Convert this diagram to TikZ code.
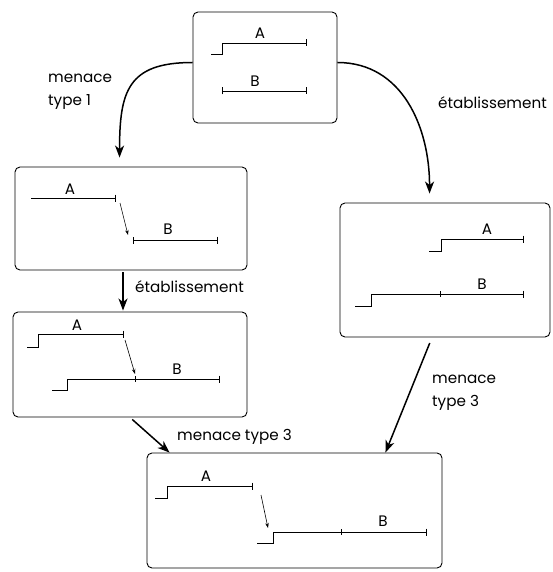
\documentclass[tikz,border=0pt]{standalone}
\usepackage{fontspec}
\setmainfont{Poppins}
\usetikzlibrary{arrows.meta,calc}
\begin{document}
\begin{tikzpicture}[x=1pt,y=-1pt,
 box/.style={draw,rounded corners=5pt,line width=0.9pt,inner sep=0pt},
 arr/.style={line width=1.5pt,-{Stealth[length=12pt,width=9pt,inset=3.5pt]}},
 tlend/.style={line width=0.9pt,-{Bar[width=7pt,line width=0.9pt]}},
 tlboth/.style={line width=0.9pt,{Bar[width=7pt,line width=0.9pt]}-{Bar[width=7pt,line width=0.9pt]}},
 sarr/.style={line width=0.6pt,-{Stealth[length=5pt,width=3.5pt]}},
 lab/.style={font=\fontsize{15.2}{23}\selectfont,inner sep=0pt},
 tick/.style={line width=0.9pt}]
\useasboundingbox (0,0) rectangle (552,572);

% boxes
\node[box,minimum width=144pt,minimum height=111pt] (top) at (265,67.5) {};
\node[box,minimum width=232pt,minimum height=103pt] (lb1) at (131,218.5) {};
\node[box,minimum width=234pt,minimum height=105pt] (lb2) at (130,364.5) {};
\node[box,minimum width=210pt,minimum height=134pt] (rb) at (445,270) {};
\node[box,minimum width=295pt,minimum height=115pt] (bot) at (294.5,510.5) {};

% top box contents
\draw[tlend] (211,54) -- (222,54) -- (222,43) -- (307,43);
\node[lab] (tA) at (260,33) {A};
\draw[tlboth] (222,91) -- (307,91);
\node[lab] (tB) at (255,81) {B};

% left box 1
\draw[tlend] (31,198) -- (116,198);
\node[lab] (aA) at (70,189) {A};
\draw[sarr] (120,203) -- (128,235);
\draw[tlboth] (133,240) -- (218,240);
\node[lab] (aB) at (168,229) {B};

% left box 2
\draw[tlend] (27,347) -- (38,347) -- (38,334) -- (124,334);
\node[lab] (bA) at (77,325) {A};
\draw[sarr] (125,340) -- (135,374);
\draw[tlend] (52,390) -- (67,390) -- (67,379) -- (220,379);
\draw[tick] (135,376) -- (135,382);
\node[lab] (bB) at (177,369) {B};

% right box
\draw[tlend] (429,251) -- (441,251) -- (441,239) -- (524,239);
\node[lab] (cA) at (487,229) {A};
\draw[tlend] (355,306) -- (371,306) -- (371,294) -- (524,294);
\draw[tick] (440,291) -- (440,297);
\node[lab] (cB) at (482,284) {B};

% bottom box
\draw[tlend] (155,498) -- (167,498) -- (167,486) -- (253,486);
\node[lab] (dA) at (206,476) {A};
\draw[sarr] (261,495) -- (268,528);
\draw[tlend] (257,543) -- (273,543) -- (273,532) -- (427,532);
\draw[tick] (341,529) -- (341,535);
\node[lab] (dB) at (383,521) {B};

% connectors
\coordinate (e1) at ($(lb1.north west)+(105,0)$);
\coordinate (e2) at ($(rb.north west)+(90,0)$);
\draw[arr,shorten >=9pt] ([yshift=5pt]top.west) .. controls +(-65,0) and +(0,-75) .. (e1);
\draw[arr,shorten >=9pt] ([yshift=5pt]top.east) .. controls +(65,0) and +(0,-75) .. (e2);
\draw[arr,shorten <=2pt,shorten >=1pt] ([xshift=-8pt]lb1.south) -- ([xshift=-7pt]lb2.north);
\draw[arr,shorten <=3pt] (lb2.south) -- ($(bot.north west)+(23,0)$);
\draw[arr,shorten <=6pt] ([xshift=-13pt]rb.south) -- ($(bot.north east)+(-57,0)$);

% labels
\node[lab,anchor=west,align=left] (l1) at (48,91.5) {menace\\type 1};
\node[lab,anchor=west] (l2) at (438,103) {établissement};
\node[lab,anchor=west] (l3) at (135,287) {établissement};
\node[lab,anchor=west] (l4) at (177,437) {menace type 3};
\node[lab,anchor=west,align=left] (l5) at (432,392.5) {menace\\type 3};
\end{tikzpicture}
\end{document}
